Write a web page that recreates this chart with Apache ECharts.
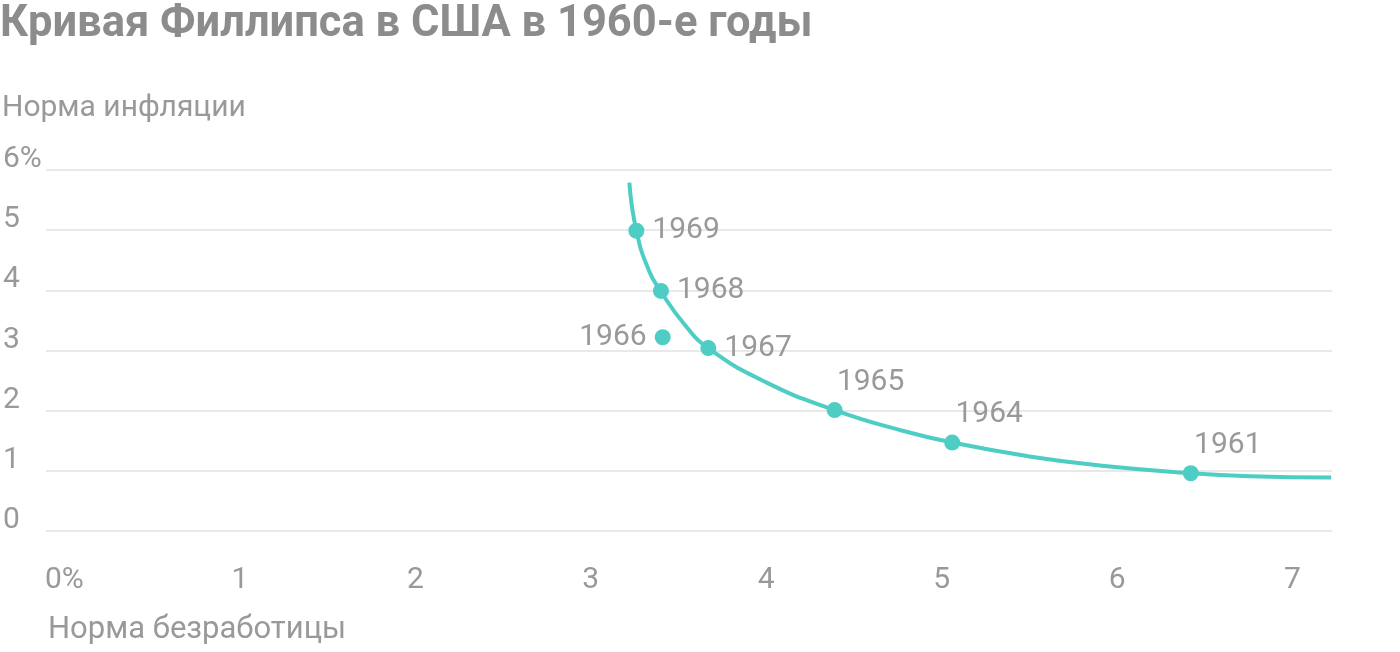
<!DOCTYPE html>
<html>
<head>
<meta charset="utf-8">
<script src="https://cdn.jsdelivr.net/npm/echarts@6/dist/echarts.min.js"></script>
<style>html,body{margin:0;padding:0;background:#fff}#chart{width:1400px;height:652px}</style>
</head>
<body>
<div id="chart"></div>
<script>
// Data
const years = ['1961', '1964', '1965', '1966', '1967', '1968', '1969'];
const unemployment = [6.42, 5.06, 4.39, 3.41, 3.67, 3.40, 3.26];
const inflation = [0.96, 1.47, 2.01, 3.22, 3.04, 3.99, 4.99];

// Fitted Phillips curve
const curveX = [3.22, 3.26, 3.33, 3.40, 3.53, 3.67, 4.00, 4.39, 4.76, 5.06, 5.52, 5.90, 6.42, 6.76, 7.22];
const curveY = [5.79, 4.99, 4.34, 3.98, 3.45, 3.04, 2.47, 2.01, 1.68, 1.47, 1.23, 1.09, 0.96, 0.91, 0.89];

const xTicks = [0, 1, 2, 3, 4, 5, 6, 7];
const yTicks = [0, 1, 2, 3, 4, 5, 6];

const titleText = 'Кривая Филлипса в США в 1960-е годы';
const yName = 'Норма инфляции';
const xName = 'Норма безработицы';

// label placement (style only)
const labelPlace = {
  '1961': {position: 'top', offset: [37, 0]},
  '1964': {position: 'top', offset: [37, 0]},
  '1965': {position: 'top', offset: [36, 0]},
  '1966': {position: 'left', offset: [0, 0]},
  '1967': {position: 'right', offset: [0, 0]},
  '1968': {position: 'right', offset: [0, 0]},
  '1969': {position: 'right', offset: [0, 0]}
};

const TEAL = '#4ecdc4';
const GREY = '#999999';
const FONT = 'Roboto, "Noto Sans", sans-serif';

const chart = echarts.init(document.getElementById('chart'), null, {renderer: 'canvas'});

const pointData = years.map((y, i) => ({
  value: [unemployment[i], inflation[i]],
  name: y,
  label: {
    show: true,
    formatter: y,
    position: labelPlace[y].position,
    offset: labelPlace[y].offset,
    distance: labelPlace[y].position === 'top' ? 5 : 8
  }
}));

const option = {
  animation: false,
  backgroundColor: '#fff',
  title: {
    text: titleText,
    left: 0,
    top: 3,
    padding: 0,
    textStyle: {fontFamily: FONT, fontSize: 43.5, fontWeight: 'bold', color: '#8c8c8c'}
  },
  graphic: [
    {type: 'text', left: 2, top: 93, style: {text: yName, fontFamily: FONT, fontSize: 30, fill: GREY}},
    {type: 'text', left: 48, top: 615, style: {text: xName, fontFamily: FONT, fontSize: 31, fill: GREY}}
  ],
  grid: {left: 45, right: 68, top: 170, bottom: 121, containLabel: false},
  xAxis: {
    type: 'value',
    min: -0.105,
    max: 7.225,
    axisLine: {show: false},
    axisTick: {show: false},
    splitLine: {show: false},
    axisLabel: {
      customValues: xTicks,
      margin: 34,
      fontFamily: FONT,
      fontSize: 30,
      color: GREY,
      lineHeight: 30,
      formatter: v => (v === 0 ? '0%' : String(v))
    }
  },
  yAxis: {
    type: 'value',
    min: 0,
    max: 6,
    interval: 1,
    axisLine: {show: false},
    axisTick: {show: false},
    splitLine: {show: true, lineStyle: {color: '#e2e2e2', width: 1.5}},
    axisLabel: {
      align: 'left',
      verticalAlign: 'bottom',
      lineHeight: 21,
      margin: 43,
      fontFamily: FONT,
      fontSize: 30,
      color: GREY,
      formatter: v => (v === 6 ? '6%' : String(v))
    }
  },
  series: [
    {
      type: 'line',
      data: curveX.map((x, i) => [x, curveY[i]]),
      smooth: 0.5,
      showSymbol: false,
      lineStyle: {color: TEAL, width: 4},
      silent: true,
      z: 2
    },
    {
      type: 'scatter',
      data: pointData,
      symbolSize: 16,
      itemStyle: {color: TEAL, opacity: 1},
      label: {fontFamily: FONT, fontSize: 30, color: GREY, lineHeight: 30},
      z: 3
    }
  ]
};
chart.setOption(option);
</script>
</body>
</html>
